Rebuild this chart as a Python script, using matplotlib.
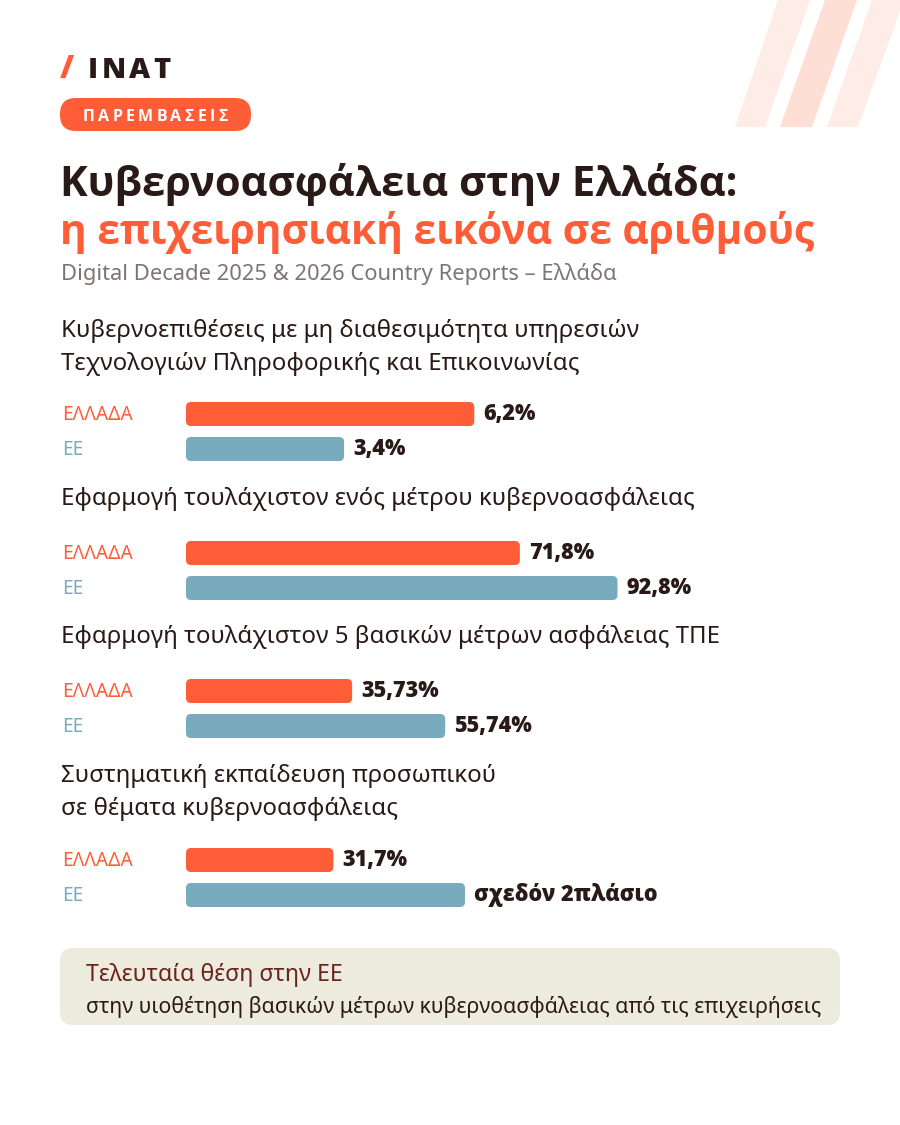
import numpy as np
import matplotlib
matplotlib.use('Agg')
from matplotlib import pyplot as plt
from matplotlib.patches import FancyBboxPatch, Polygon

plt.rcParams['font.family'] = ['Noto Sans', 'DejaVu Sans']
BOLD = ['Open Sans', 'DejaVu Sans']

# data
questions = [
    ["Κυβερνοεπιθέσεις με μη διαθεσιμότητα υπηρεσιών",
     "Τεχνολογιών Πληροφορικής και Επικοινωνίας"],
    ["Εφαρμογή τουλάχιστον ενός μέτρου κυβερνοασφάλειας"],
    ["Εφαρμογή τουλάχιστον 5 βασικών μέτρων ασφάλειας ΤΠΕ"],
    ["Συστηματική εκπαίδευση προσωπικού",
     "σε θέματα κυβερνοασφάλειας"],
]
series_names = ["ΕΛΛΑΔΑ", "ΕΕ"]
greece_values = [6.2, 71.8, 35.73, 31.7]
eu_values = [3.4, 92.8, 55.74, 60.0]
greece_labels = ["6,2%", "71,8%", "35,73%", "31,7%"]
eu_labels = ["3,4%", "92,8%", "55,74%", "σχεδόν 2πλάσιο"]
scale_max = [10, 100, 100, 100]  # first group drawn on its own scale

# layout (pixels)
W, H = 900, 1125
ORANGE = '#FF5C38'
BLUE = '#78ABBE'
DARK = '#2A1A17'
title_base = [337, 505, 643, 782]
bar_center = [414, 553, 691, 860]
BAR_X0, BAR_W = 186, 465
PITCH = 35


def fx(px):
    return px / W


def fy(py):
    return 1 - py / H


def rounded_box(fig, x, y, w, h, r, color):
    # x, y = top-left in pixels
    p = FancyBboxPatch((fx(x), fy(y + h)), w / W, h / H,
                       boxstyle=f"round,pad=0,rounding_size={r / W}",
                       mutation_aspect=W / H, transform=fig.transFigure,
                       facecolor=color, edgecolor='none', zorder=1)
    fig.patches.append(p)


def spaced_text(fig, x, y, s, gap, **kw):
    r = fig.canvas.get_renderer()
    for ch in s:
        t = fig.text(fx(x), fy(y), ch, **kw)
        x += t.get_window_extent(r).width + gap


fig = plt.figure(figsize=(9, 11.25), dpi=100)
fig.patch.set_facecolor('white')

# decorative stripes top right
stripes = [((735, 765), (778, 810), '#FEECE6'),
           ((780, 812), (825, 857), '#FDDFD6'),
           ((827, 858), (872, 904), '#FEECE6')]
for (b0, b1), (t0, t1), c in stripes:
    poly = Polygon([(fx(b0), fy(127)), (fx(b1), fy(127)), (fx(t1), fy(0)), (fx(t0), fy(0))],
                   closed=True, transform=fig.transFigure, facecolor=c, edgecolor='none')
    fig.patches.append(poly)

# logo
fig.text(fx(60), fy(78), "/", color=ORANGE, fontsize=23, fontweight='heavy',
         family=BOLD, va='baseline')
spaced_text(fig, 88, 78, "ΙΝΑΤ", 3.3, color=DARK, fontsize=21, fontweight='heavy',
            family=BOLD, va='baseline')

# badge
rounded_box(fig, 60, 98, 191, 33, 16, ORANGE)
spaced_text(fig, 83, 121, "ΠΑΡΕΜΒΑΣΕΙΣ", 3.3, color='white', fontsize=11.5,
            fontweight='bold', family=BOLD, va='baseline', zorder=3)

# titles
fig.text(fx(60), fy(196), "Κυβερνοασφάλεια στην Ελλάδα:", color=DARK,
         fontsize=30, fontweight='bold', family=BOLD, va='baseline')
fig.text(fx(60), fy(244), "η επιχειρησιακή εικόνα σε αριθμούς", color=ORANGE,
         fontsize=29.3, fontweight='bold', family=BOLD, va='baseline')
fig.text(fx(61), fy(280), "Digital Decade 2025 & 2026 Country Reports – Ελλάδα",
         color='#7C7673', fontsize=15.8, va='baseline')

for g in range(len(questions)):
    for k, line in enumerate(questions[g]):
        fig.text(fx(61), fy(title_base[g] + 33 * k), line, color=DARK,
                 fontsize=17.3, va='baseline')

    top = bar_center[g] - PITCH / 2
    ax = fig.add_axes([fx(BAR_X0), fy(top + 2 * PITCH), BAR_W / W, 2 * PITCH / H])
    ax.set_xlim(0, scale_max[g])
    ax.set_ylim(1.5, -0.5)
    ax.axis('off')
    vals = [greece_values[g], eu_values[g]]
    bars = ax.barh([0, 1], vals, height=24 / PITCH, color=[ORANGE, BLUE])
    r_x = 5 * scale_max[g] / BAR_W
    asp = (5 / PITCH) / r_x
    for rect in bars:
        rect.set_visible(False)
        ax.add_patch(FancyBboxPatch((rect.get_x(), rect.get_y()), rect.get_width(), rect.get_height(),
                                    boxstyle=f"round,pad=0,rounding_size={r_x}",
                                    mutation_aspect=asp, facecolor=rect.get_facecolor(),
                                    edgecolor='none'))
    ax.bar_label(bars, labels=[greece_labels[g], eu_labels[g]], padding=6.5,
                 fontsize=15.6, fontweight='heavy', family=BOLD, color=DARK)

    fig.text(fx(62), fy(bar_center[g] + 6), series_names[0], color=ORANGE,
             fontsize=13.8, va='baseline')
    fig.text(fx(62), fy(bar_center[g] + PITCH + 6), series_names[1], color=BLUE,
             fontsize=13.8, va='baseline')

# bottom note box
rounded_box(fig, 60, 948, 780, 77, 13, '#EDEBDD')
fig.text(fx(86), fy(981), "Τελευταία θέση στην ΕΕ", color='#6B2320',
         fontsize=16.7, va='baseline')
fig.text(fx(86), fy(1013), "στην υιοθέτηση βασικών μέτρων κυβερνοασφάλειας από τις επιχειρήσεις",
         color=DARK, fontsize=15.3, va='baseline')

fig.savefig('out.png', dpi=100)
